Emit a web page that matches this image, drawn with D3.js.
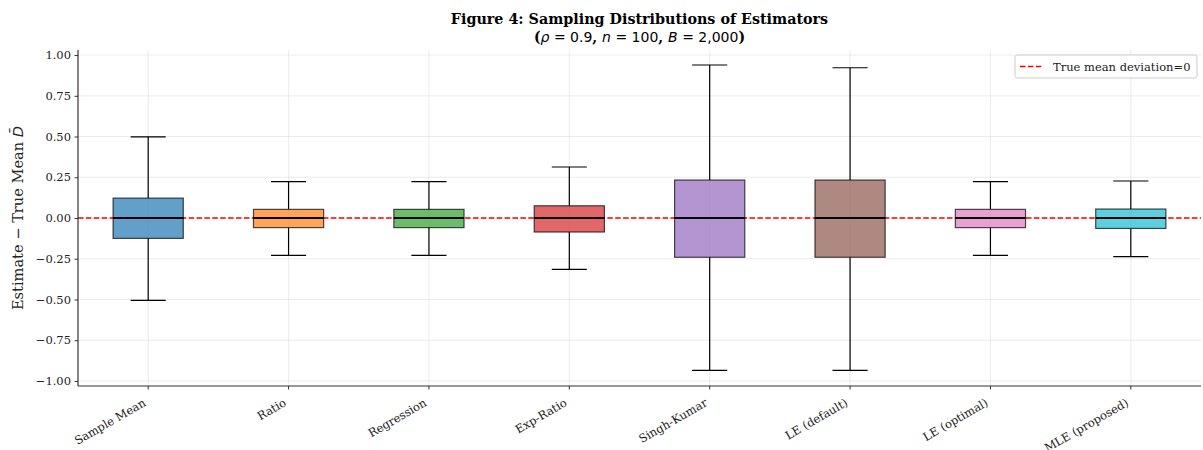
<!DOCTYPE html>
<html>
<head>
<meta charset="utf-8">
<script src="https://cdn.jsdelivr.net/npm/d3@7"></script>
<style>
body { margin: 0; background: #fff; }
svg { display: block; }
.tick text { font-family: "DejaVu Serif", serif; font-size: 11.5px; fill: #222; }
</style>
</head>
<body>
<svg width="1203" height="450"></svg>
<script>
"use strict"

// estimators on the x axis
let estimators = ["Sample Mean", "Ratio", "Regression", "Exp-Ratio",
    "Singh-Kumar", "LE (default)", "LE (optimal)", "MLE (proposed)"]

// box statistics (estimate - true mean)
let whiskerLow  = [-0.505, -0.229, -0.229, -0.315, -0.935, -0.935, -0.229, -0.237]
let q1          = [-0.125, -0.059, -0.059, -0.086, -0.241, -0.241, -0.059, -0.064]
let median      = [0, 0, 0, 0, 0, 0, 0, 0]
let q3          = [0.122, 0.053, 0.053, 0.075, 0.233, 0.233, 0.053, 0.055]
let whiskerHigh = [0.498, 0.223, 0.223, 0.313, 0.939, 0.922, 0.223, 0.227]

let yTicks = [-1.0, -0.75, -0.5, -0.25, 0, 0.25, 0.5, 0.75, 1.0]
let trueDeviation = 0

let palette = ["#1f77b4", "#ff7f0e", "#2ca02c", "#d62728",
    "#9467bd", "#8c564b", "#e377c2", "#17becf"]

let boxes = estimators.map((name, i) => ({
    name: name,
    lo: whiskerLow[i], q1: q1[i], med: median[i], q3: q3[i], hi: whiskerHigh[i],
    color: palette[i]
}))

let svg = d3.select("svg"),
    margin = {top: 50, right: 2, bottom: 64, left: 78},
    width = +svg.attr("width") - margin.left - margin.right,
    height = +svg.attr("height") - margin.top - margin.bottom

let x = d3.scaleBand().domain(estimators).range([0, width]).padding(0)
let y = d3.scaleLinear().domain([-1.031, 1.031]).range([height, 0])
let cx = d => x(d) + x.bandwidth() / 2
let boxW = x.bandwidth() * 0.5

let g = svg.append("g")
    .attr("transform", "translate(" + margin.left + "," + margin.top + ")")

// grid
g.append("g").selectAll("line.hgrid")
    .data(yTicks).enter().append("line")
    .attr("x1", 0).attr("x2", width)
    .attr("y1", d => y(d)).attr("y2", d => y(d))
    .attr("stroke", "#b0b0b0").attr("stroke-opacity", 0.3).attr("stroke-width", 0.8)
g.append("g").selectAll("line.vgrid")
    .data(estimators).enter().append("line")
    .attr("x1", d => cx(d)).attr("x2", d => cx(d))
    .attr("y1", 0).attr("y2", height)
    .attr("stroke", "#b0b0b0").attr("stroke-opacity", 0.3).attr("stroke-width", 0.8)

// reference line (under the boxes)
g.append("line")
    .attr("x1", 0).attr("x2", width)
    .attr("y1", y(trueDeviation)).attr("y2", y(trueDeviation))
    .attr("stroke", "red").attr("stroke-width", 1.5)
    .attr("stroke-dasharray", "5.5,2.4")

// boxes
let bg = g.selectAll(".box").data(boxes).enter().append("g").attr("class", "box")

bg.append("line")
    .attr("x1", d => cx(d.name)).attr("x2", d => cx(d.name))
    .attr("y1", d => y(d.hi)).attr("y2", d => y(d.q3))
    .attr("stroke", "#000").attr("stroke-width", 1.2)
bg.append("line")
    .attr("x1", d => cx(d.name)).attr("x2", d => cx(d.name))
    .attr("y1", d => y(d.q1)).attr("y2", d => y(d.lo))
    .attr("stroke", "#000").attr("stroke-width", 1.2)
bg.selectAll("line.cap").data(d => [d.lo, d.hi].map(v => ({name: d.name, v: v})))
    .enter().append("line").attr("class", "cap")
    .attr("x1", d => cx(d.name) - boxW / 4).attr("x2", d => cx(d.name) + boxW / 4)
    .attr("y1", d => y(d.v)).attr("y2", d => y(d.v))
    .attr("stroke", "#000").attr("stroke-width", 1.2)

bg.append("rect")
    .attr("x", d => cx(d.name) - boxW / 2)
    .attr("y", d => y(d.q3))
    .attr("width", boxW)
    .attr("height", d => y(d.q1) - y(d.q3))
    .attr("fill", d => d.color).attr("fill-opacity", 0.7)
    .attr("stroke", "#000").attr("stroke-opacity", 0.7).attr("stroke-width", 1.2)

bg.append("line")
    .attr("x1", d => cx(d.name) - boxW / 2).attr("x2", d => cx(d.name) + boxW / 2)
    .attr("y1", d => y(d.med)).attr("y2", d => y(d.med))
    .attr("stroke", "#000").attr("stroke-width", 2)

// axes
let yAxis = g.append("g")
    .call(d3.axisLeft(y).tickValues(yTicks).tickFormat(d3.format(".2f")).tickSize(3.5).tickPadding(3.5))
yAxis.selectAll(".tick text").text(d => d3.format(".2f")(d).replace("-", "\u2212"))
yAxis.select(".domain").attr("d", "M0,0V" + height)

let xAxis = g.append("g")
    .attr("transform", "translate(0," + height + ")")
    .call(d3.axisBottom(x).tickSize(3.5).tickPadding(3.5))
xAxis.select(".domain").attr("d", "M0,0H" + width)
xAxis.selectAll(".tick text")
    .attr("text-anchor", "end")
    .attr("dy", null)
    .attr("transform", "translate(-5,13) rotate(-30)")

svg.selectAll(".domain").attr("stroke", "#333").attr("stroke-width", 1.2)
svg.selectAll(".tick line").attr("stroke", "#333").attr("stroke-width", 1)

// y label
let ylab = svg.append("text")
    .attr("transform", "translate(23," + (margin.top + y(0)) + ") rotate(-90)")
    .attr("text-anchor", "middle")
    .attr("font-family", "DejaVu Serif").attr("font-size", 14.6).attr("fill", "#222")
ylab.append("tspan").text("Estimate \u2212 True Mean ")
ylab.append("tspan").attr("font-family", "DejaVu Sans").attr("font-style", "italic").text("D\u0304")

// title
let cxTitle = margin.left + width / 2
svg.append("text")
    .attr("x", cxTitle).attr("y", 24)
    .attr("text-anchor", "middle")
    .attr("font-family", "DejaVu Serif").attr("font-weight", "bold").attr("font-size", 14.3)
    .text("Figure 4: Sampling Distributions of Estimators")
let t2 = svg.append("text")
    .attr("x", cxTitle).attr("y", 42)
    .attr("text-anchor", "middle")
    .attr("font-family", "DejaVu Serif").attr("font-weight", "bold").attr("font-size", 14)
let mathPart = (txt, italic) => t2.append("tspan")
    .attr("font-family", "DejaVu Sans").attr("font-weight", "normal")
    .attr("font-style", italic ? "italic" : "normal").text(txt)
t2.append("tspan").text("(")
mathPart("\u03c1", true); mathPart(" = 0.9", false)
t2.append("tspan").text(", ")
mathPart("n", true); mathPart(" = 100", false)
t2.append("tspan").text(", ")
mathPart("B", true); mathPart(" = 2,000", false)
t2.append("tspan").text(")")

// legend
let lg = svg.append("g").attr("transform", "translate(1015,55)")
lg.append("rect").attr("width", 182).attr("height", 23).attr("rx", 2.5)
    .attr("fill", "#fff").attr("fill-opacity", 0.8).attr("stroke", "#ccc").attr("stroke-width", 1)
lg.append("line").attr("x1", 5).attr("x2", 27).attr("y1", 11.5).attr("y2", 11.5)
    .attr("stroke", "red").attr("stroke-width", 1.5).attr("stroke-dasharray", "5.5,2.4")
lg.append("text").attr("x", 38).attr("y", 15.5)
    .attr("font-family", "DejaVu Serif").attr("font-size", 11.5).attr("fill", "#222")
    .text("True mean deviation=0")
</script>
</body>
</html>
